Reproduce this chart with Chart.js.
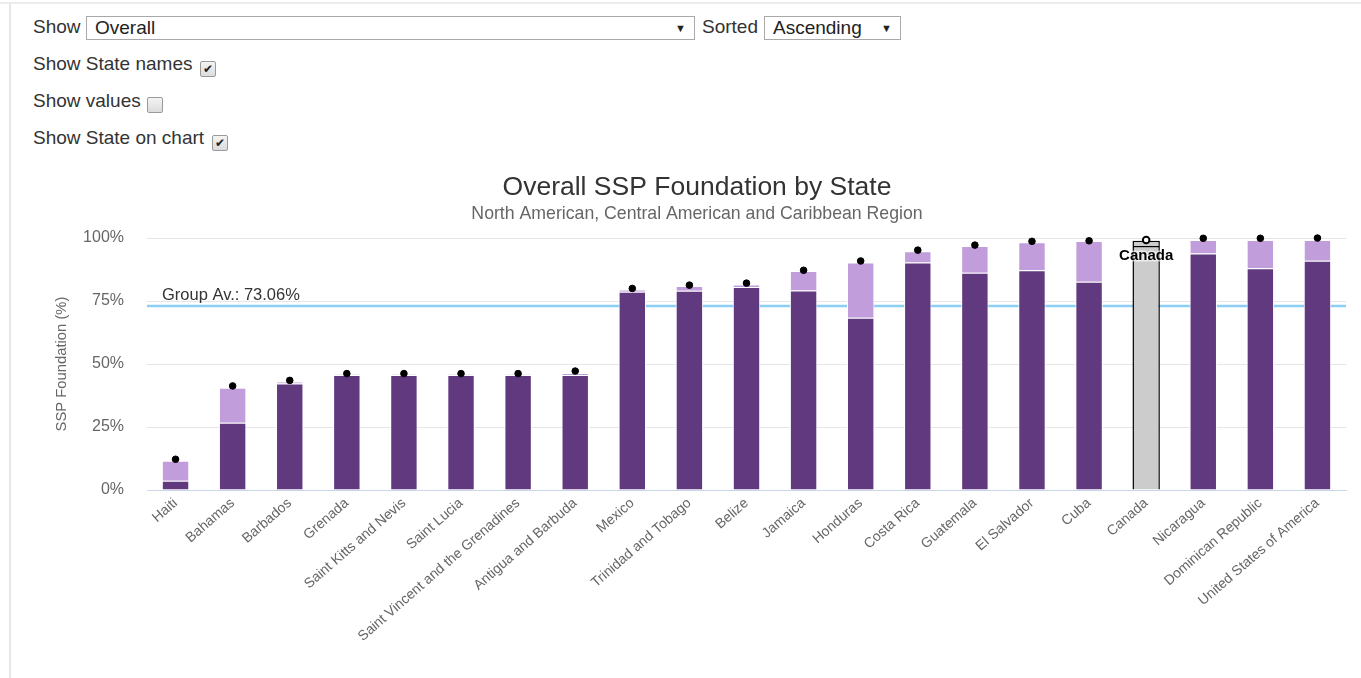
<!DOCTYPE html>
<html>
<head>
<meta charset="utf-8">
<title>Overall SSP Foundation by State</title>
<script src="https://cdn.jsdelivr.net/npm/chart.js@4.4.1/dist/chart.umd.min.js"></script>
<style>
  body { margin: 0; background: #fff; font-family: "Liberation Sans", Arial, sans-serif; color: #333; }
  .page { position: relative; width: 1361px; height: 678px; overflow: hidden; }
  .frame-top { position: absolute; left: 0; top: 2px; width: 1361px; height: 2px; background: #ececec; }
  .frame-left { position: absolute; left: 9px; top: 3px; width: 2px; height: 675px; background: #e6e6e6; }
  .lbl { position: absolute; font-size: 19px; line-height: 22px; color: #333; white-space: nowrap; }
  .select { position: absolute; height: 22px; border: 1px solid #a9a9a9; background: #fff; font-size: 19px; line-height: 22px; color: #222; }
  .select span.txt { position: absolute; left: 8px; top: 0; }
  .select span.arrow { position: absolute; right: 8px; top: 0; font-size: 11px; }
  .cb { position: absolute; width: 14px; height: 14px; border: 1px solid #9a9a9a; border-radius: 2px; background: linear-gradient(#f4f4f4, #dcdcdc); font-size: 12px; line-height: 14px; text-align: center; color: #222; }
  #chart { position: absolute; left: 0; top: 160px; }
</style>
</head>
<body>
<div class="page">
  <div class="frame-top"></div>
  <div class="frame-left"></div>

  <div class="lbl" style="left:33px;top:16px;">Show</div>
  <div class="select" style="left:86px;top:16px;width:607px;"><span class="txt">Overall</span><span class="arrow">&#9660;</span></div>
  <div class="lbl" style="left:702px;top:16px;">Sorted</div>
  <div class="select" style="left:764px;top:16px;width:135px;"><span class="txt">Ascending</span><span class="arrow">&#9660;</span></div>

  <div class="lbl" style="left:33px;top:53px;">Show State names</div>
  <div class="cb" style="left:200px;top:61px;">&#10004;</div>
  <div class="lbl" style="left:33px;top:90px;">Show values</div>
  <div class="cb" style="left:147px;top:97px;"></div>
  <div class="lbl" style="left:33px;top:127px;">Show State on chart</div>
  <div class="cb" style="left:212px;top:135px;">&#10004;</div>

  <canvas id="chart" width="1361" height="518"></canvas>
</div>

<script>
// states in ascending order of overall score
var states = [
  "Haiti", "Bahamas", "Barbados", "Grenada", "Saint Kitts and Nevis",
  "Saint Lucia", "Saint Vincent and the Grenadines", "Antigua and Barbuda",
  "Mexico", "Trinidad and Tobago", "Belize", "Jamaica", "Honduras",
  "Costa Rica", "Guatemala", "El Salvador", "Cuba", "Canada", "Nicaragua",
  "Dominican Republic", "United States of America"
];

// lower (dark) part of each bar
var baseScores = [
  3.7, 26.7, 42.3, 45.6, 45.6, 45.6, 45.6, 45.6, 78.7, 79.1, 80.6,
  79.2, 68.4, 90.3, 86.2, 87.2, 82.7, 96.8, 93.9, 88.0, 91.0
];

// upper (light) part stacked on top
var extraScores = [
  7.9, 13.9, 0.7, 0.3, 0.3, 0.3, 0.3, 0.8, 0.9, 1.9, 1.0,
  7.7, 21.9, 4.5, 10.6, 11.1, 16.1, 2.1, 5.3, 11.2, 8.2
];

// overall score markers
var overallScores = [
  12.2, 41.3, 43.5, 46.2, 46.2, 46.2, 46.2, 47.2, 80.0, 81.3, 82.1,
  87.2, 90.9, 95.2, 97.2, 98.7, 98.9, 99.2, 99.9, 99.9, 100
];

var yTickValues = [0, 25, 50, 75, 100];
var groupAverage = 73.06;
var selectedState = "Canada";

var DARK = "#61397f";
var LIGHT = "#c19ddc";
var GREY = "#cccccc";
var FONT = "'Liberation Sans', Arial, sans-serif";

var selIndex = states.indexOf(selectedState);

function perState(normal, selected) {
  return states.map(function (s, i) {
    return i === selIndex ? selected : normal;
  });
}

// blue group average line, drawn behind the bars
var groupAveragePlugin = {
  id: "groupAverage",
  beforeDatasetsDraw: function (chart) {
    var ctx = chart.ctx;
    var area = chart.chartArea;
    var y = chart.scales.y.getPixelForValue(groupAverage);
    ctx.save();
    ctx.strokeStyle = "#8dcff4";
    ctx.lineWidth = 2.5;
    ctx.beginPath();
    ctx.moveTo(area.left, y);
    ctx.lineTo(area.right, y);
    ctx.stroke();
    ctx.font = "16.5px " + FONT;
    ctx.fillStyle = "#333333";
    ctx.textAlign = "left";
    ctx.textBaseline = "alphabetic";
    ctx.fillText("Group Av.: " + groupAverage.toFixed(2) + "%", area.left + 15, y - 6);
    ctx.restore();
  },
};

// name of the highlighted state under the top of its bar
var stateLabelPlugin = {
  id: "stateLabel",
  afterDatasetsDraw: function (chart) {
    var meta = chart.getDatasetMeta(2);
    var bar = meta.data[selIndex];
    if (!bar) return;
    var ctx = chart.ctx;
    ctx.save();
    ctx.font = "bold 15px " + FONT;
    ctx.textAlign = "center";
    ctx.textBaseline = "middle";
    ctx.lineWidth = 3;
    ctx.strokeStyle = "rgba(255,255,255,0.6)";
    ctx.strokeText(selectedState, bar.x, bar.y + 15);
    ctx.fillStyle = "#000000";
    ctx.fillText(selectedState, bar.x, bar.y + 15);
    ctx.restore();
  },
};

new Chart(document.getElementById("chart"), {
  type: "bar",
  data: {
    labels: states,
    datasets: [
      {
        type: "line",
        label: "Overall",
        data: overallScores,
        stack: "points",
        showLine: false,
        clip: false,
        pointRadius: 3.3,
        pointBorderWidth: perState(1, 2),
        pointBackgroundColor: perState("#000000", "#ffffff"),
        pointBorderColor: "#000000",
      },
      {
        label: "Base",
        data: baseScores,
        stack: "bars",
        backgroundColor: perState(DARK, GREY),
        borderColor: perState("#ffffff", "#000000"),
        borderWidth: perState(1, 1.5),
        barPercentage: 0.48,
        categoryPercentage: 1,
      },
      {
        label: "Extra",
        data: extraScores,
        stack: "bars",
        backgroundColor: perState(LIGHT, GREY),
        borderColor: perState("#ffffff", "#000000"),
        borderWidth: perState(1, 1.5),
        barPercentage: 0.48,
        categoryPercentage: 1,
      },
    ],
  },
  options: {
    responsive: false,
    animation: false,
    layout: { padding: { left: 48, right: 15, top: 0, bottom: 0 } },
    plugins: {
      legend: { display: false },
      tooltip: { enabled: false },
      title: {
        display: true,
        text: "Overall SSP Foundation by State",
        color: "#333333",
        font: { family: FONT, size: 26.5, weight: "normal" },
        padding: { top: 12, bottom: 0 },
      },
      subtitle: {
        display: true,
        text: "North American, Central American and Caribbean Region",
        color: "#666666",
        font: { family: FONT, size: 17.7, weight: "normal" },
        padding: { top: 0, bottom: 13 },
      },
    },
    scales: {
      x: {
        stacked: true,
        grid: { display: false, drawTicks: false },
        border: { display: true, color: "#ccd6eb", width: 1 },
        ticks: {
          autoSkip: false,
          minRotation: 41,
          maxRotation: 41,
          padding: 5,
          color: "#666666",
          font: { family: FONT, size: 14 },
        },
        afterFit: function (scale) {
          scale.height = 188;
        },
      },
      y: {
        stacked: true,
        min: 0,
        max: 100,
        afterBuildTicks: function (scale) {
          scale.ticks = yTickValues.map(function (v) {
            return { value: v };
          });
        },
        grid: { color: "#e6e6e6", drawTicks: false },
        border: { display: false },
        ticks: {
          padding: 23,
          color: "#666666",
          font: { family: FONT, size: 16 },
          callback: function (v) {
            return v + "%";
          },
        },
        title: {
          display: true,
          text: "SSP Foundation (%)",
          color: "#666666",
          font: { family: FONT, size: 14.8 },
          padding: { top: 5, bottom: 0 },
        },
        afterFit: function (scale) {
          scale.width = 99;
        },
      },
    },
  },
  plugins: [groupAveragePlugin, stateLabelPlugin],
});
</script>
</body>
</html>
